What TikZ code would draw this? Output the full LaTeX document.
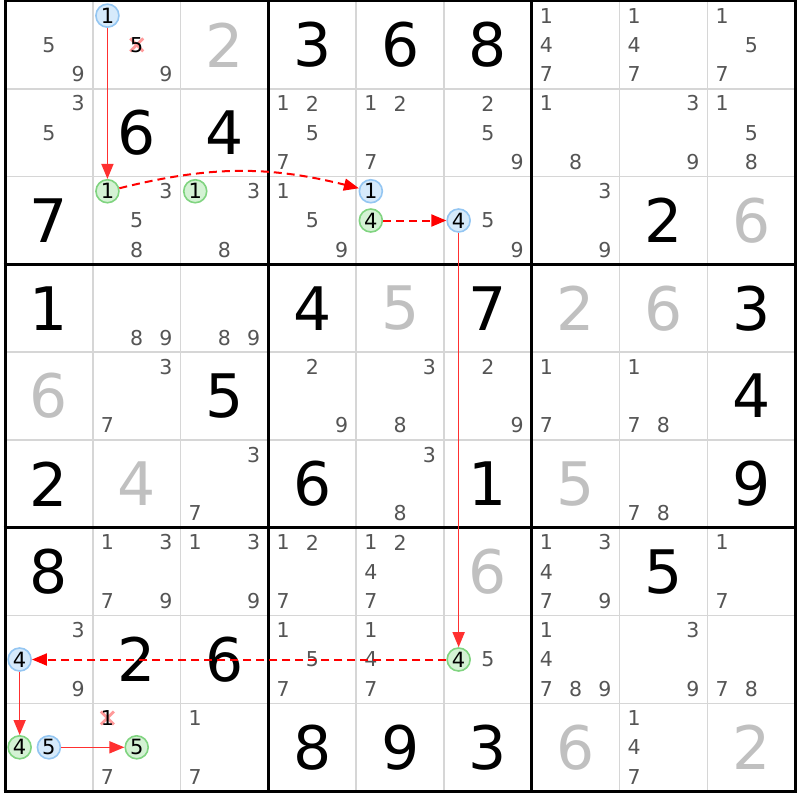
\documentclass[tikz,border=0pt]{standalone}
\usepackage{fontspec}
\setmainfont{DejaVu Sans}
\usetikzlibrary{arrows.meta}
\definecolor{candgray}{HTML}{555555}
\definecolor{solvedgray}{HTML}{C0C0C0}
\definecolor{gridgray}{HTML}{D6D6D6}
\definecolor{bluefill}{HTML}{D6EAFB}
\definecolor{bluedraw}{HTML}{94C6F2}
\definecolor{greenfill}{HTML}{D4F2D4}
\definecolor{greendraw}{HTML}{80D480}
\definecolor{xpink}{HTML}{FF9A9A}
\definecolor{linkred}{HTML}{FF0000}
\definecolor{solidred}{HTML}{FF3030}
\def\csize{87.8}
\newcommand\setcp[3]{%
  \pgfmathsetmacro\cpx{5+(#2-1)*\csize+(mod(#3-1,3)+0.5)*\csize/3}%
  \pgfmathsetmacro\cpy{1+(#1-1)*\csize+(floor((#3-1)/3)+0.5)*\csize/3}}
\begin{document}
\begin{tikzpicture}[x=1pt,y=-1pt,
  given/.style={font=\fontsize{60}{60}\selectfont, inner sep=0pt, text=black},
  solvedd/.style={given, text=solvedgray},
  cand/.style={font=\fontsize{20.5}{21}\selectfont, text=candgray, inner sep=0pt},
  elim/.style={cand, text=black},
  xmark/.style={draw=xpink, line width=2.8pt},
  onnode/.style={circle, draw=bluedraw, fill=bluefill, line width=1.6pt, minimum size=23pt, inner sep=0pt, font=\fontsize{21}{21}\selectfont, text=black},
  offnode/.style={onnode, draw=greendraw, fill=greenfill},
  link/.style={draw=solidred, line width=1.6pt, -{Triangle[length=15pt,width=12pt]}},
  weak/.style={draw=linkred, line width=2pt, dash pattern=on 8pt off 5pt, -{Triangle[length=15pt,width=12pt]}},
  thinline/.style={draw=gridgray, line width=1.5pt},
  thickline/.style={draw=black, line width=3pt}]
\useasboundingbox (0,0) rectangle (800,800);
\fill[white] (0,0) rectangle (800,800);
% grid
\foreach \i in {1,2,4,5,7,8}{
  \draw[thinline] ({5+\i*\csize},1) -- ({5+\i*\csize},791);
  \draw[thinline] (5,{1+\i*\csize}) -- (795,{1+\i*\csize});
}
\foreach \i in {0,3,6,9}{
  \draw[thickline] ({5+\i*\csize},-0.5) -- ({5+\i*\csize},792.5);
  \draw[thickline] (3.5,{1+\i*\csize}) -- (796.5,{1+\i*\csize});
}
% givens
\foreach \rr/\cc/\d in {1/4/3,1/5/6,1/6/8,2/2/6,2/3/4,3/1/7,3/8/2,4/1/1,4/4/4,4/6/7,4/9/3,5/3/5,5/9/4,6/1/2,6/4/6,6/6/1,6/9/9,7/1/8,7/8/5,8/2/2,8/3/6,9/4/8,9/5/9,9/6/3}{
  \node[given] (g\rr\cc) at ({5+(\cc-0.5)*\csize},{1+(\rr-0.5)*\csize}) {\d};
}
\foreach \rr/\cc/\d in {1/3/2,3/9/6,4/5/5,4/7/2,4/8/6,5/1/6,6/2/4,6/7/5,7/6/6,9/7/6,9/9/2}{
  \node[solvedd] (s\rr\cc) at ({5+(\cc-0.5)*\csize},{1+(\rr-0.5)*\csize}) {\d};
}
% candidates
\foreach \rr/\cc/\ds in {1/1/{5,9},1/2/{9},1/7/{1,4,7},1/8/{1,4,7},1/9/{1,5,7},
  2/1/{3,5},2/4/{1,2,5,7},2/5/{1,2,7},2/6/{2,5,9},2/7/{1,8},2/8/{3,9},2/9/{1,5,8},
  3/2/{3,5,8},3/3/{3,8},3/4/{1,5,9},3/6/{5,9},3/7/{3,9},
  4/2/{8,9},4/3/{8,9},
  5/2/{3,7},5/4/{2,9},5/5/{3,8},5/6/{2,9},5/7/{1,7},5/8/{1,7,8},
  6/3/{3,7},6/5/{3,8},6/8/{7,8},
  7/2/{1,3,7,9},7/3/{1,3,9},7/4/{1,2,7},7/5/{1,2,4,7},7/7/{1,3,4,7,9},7/9/{1,7},
  8/1/{3,9},8/4/{1,5,7},8/5/{1,4,7},8/6/{5},8/7/{1,4,7,8,9},8/8/{3,9},8/9/{7,8},
  9/2/{7},9/3/{1,7},9/8/{1,4,7}}{
  \foreach \d in \ds {
    \setcp{\rr}{\cc}{\d}
    \node[cand] (n\rr\cc\d) at (\cpx,\cpy) {\d};
  }
}
% eliminated candidates
\foreach \rr/\cc/\d in {1/2/5,9/2/1}{
  \setcp{\rr}{\cc}{\d}
  \draw[xmark] (\cpx-6.5,\cpy-6.5) -- (\cpx+6.5,\cpy+6.5) (\cpx-6.5,\cpy+6.5) -- (\cpx+6.5,\cpy-6.5);
  \node[elim] (x\rr\cc\d) at (\cpx,\cpy) {\d};
}
% chain nodes
\setcp{1}{2}{1}\node[onnode] (A) at (\cpx,\cpy) {1};
\setcp{3}{2}{1}\node[offnode] (B) at (\cpx,\cpy) {1};
\setcp{3}{3}{1}\node[offnode] (B2) at (\cpx,\cpy) {1};
\setcp{3}{5}{1}\node[onnode] (C) at (\cpx,\cpy) {1};
\setcp{3}{5}{4}\node[offnode] (D) at (\cpx,\cpy) {4};
\setcp{3}{6}{4}\node[onnode] (E) at (\cpx,\cpy) {4};
\setcp{8}{6}{4}\node[offnode] (F) at (\cpx,\cpy) {4};
\setcp{8}{1}{4}\node[onnode] (G) at (\cpx,\cpy) {4};
\setcp{9}{1}{4}\node[offnode] (H) at (\cpx,\cpy) {4};
\setcp{9}{1}{5}\node[onnode] (I) at (\cpx,\cpy) {5};
\setcp{9}{2}{5}\node[offnode] (J) at (\cpx,\cpy) {5};
% links
\draw[link] (A) -- (B);
\draw[weak] (B) to[bend left=14] (C);
\draw[weak] (D) -- (E);
\draw[link] (E) -- (F);
\draw[weak] (F) -- (G);
\draw[link] (G) -- (H);
\draw[link] (I) -- (J);
\end{tikzpicture}
\end{document}
